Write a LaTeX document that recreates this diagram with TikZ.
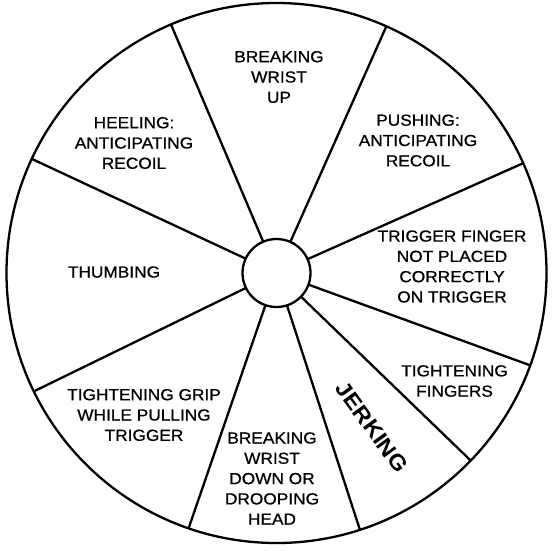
\documentclass[tikz,border=0pt]{standalone}
\usepackage{fontspec}
\setmainfont{Liberation Sans}[FakeStretch=1.08, UprightFeatures={FakeBold=0.8}]
\begin{document}
\begin{tikzpicture}[
    x=1pt, y=1pt,
    wheel/.style={circle, draw, line width=2.3pt, inner sep=0pt, outer sep=0pt, minimum size=540pt},
    hub/.style={circle, draw, line width=2.3pt, inner sep=0pt, outer sep=0pt, minimum size=68pt},
    spoke/.style={line width=2.3pt},
    fault/.style={align=center, inner sep=0pt, font=\fontsize{16}{20.3}\selectfont},
    bigfault/.style={inner sep=0pt, font=\fontsize{22}{26}\selectfont\bfseries}
]
\useasboundingbox (0,-550) rectangle (553,0);

% Wheel
\node[wheel] (rim) at (276.5,-273) {};
\node[hub] (centre) at (276.5,-273) {};

% Spokes
\foreach \a in {113,66.7,24.8,-20.2,-44.5,-72.9,-109.4,-154.2,155.2}
    \draw[spoke] (centre.\a) -- (rim.\a);

% Faults
\node[fault] (wristup) at (279,-77) {BREAKING\\WRIST\\UP};
\node[fault] (heeling) at (134,-143) {HEELING:\\ANTICIPATING\\RECOIL};
\node[fault] (pushing) at (418,-140.5) {PUSHING:\\ANTICIPATING\\RECOIL};
\node[fault] (trigger) at (452,-266.5) {TRIGGER FINGER\\NOT PLACED\\CORRECTLY\\ON TRIGGER};
\node[fault] (thumbing) at (114,-272) {THUMBING};
\node[fault] (fingers) at (454.5,-381) {TIGHTENING\\FINGERS};
\node[bigfault, rotate=-54] (jerking) at (372,-427) {JERKING};
\node[fault] (grip) at (144,-415) {TIGHTENING GRIP\\WHILE PULLING\\TRIGGER};
\node[fault] (wristdown) at (272,-478.5) {BREAKING\\WRIST\\DOWN OR\\DROOPING\\HEAD};

\end{tikzpicture}
\end{document}
